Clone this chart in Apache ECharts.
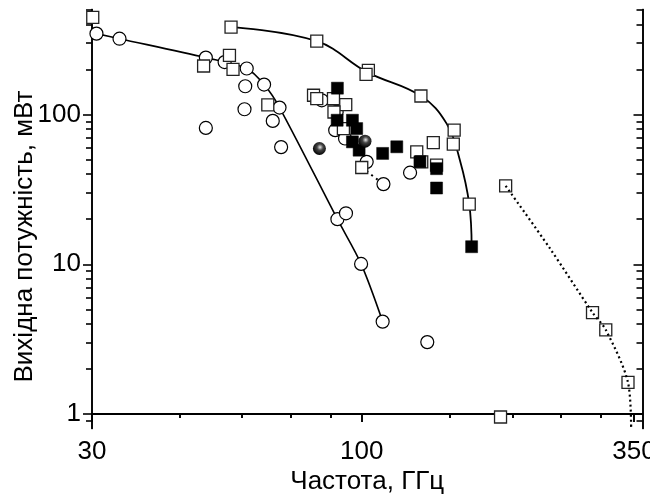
<!DOCTYPE html>
<html lang="uk">
<head>
<meta charset="UTF-8">
<title>Вихідна потужність</title>
<script src="https://cdn.jsdelivr.net/npm/echarts@6/dist/echarts.min.js"></script>
<style>
  html, body { margin: 0; padding: 0; background: #fff; }
  #chart { width: 650px; height: 499px; }
</style>
</head>
<body>
<div id="chart"></div>
<script>
// axis ranges, frequency in GHz, power in mW (log axes)
var xMin = 28.9, xMax = 364;
var yMin = 0.8, yMax = 503;
var xLabelAt = [28.9, 100, 350];
var xLabelText = ['30', '100', '350'];
var xMinorTicks = [43.3, 57.7, 72.2, 86.7, 150, 200, 250, 300];
var yLabelAt = [1, 10, 100];
var yMinorTicks = [0.9, 2, 3, 4, 5, 6, 7, 8, 9, 20, 30, 40, 50, 60, 70, 80, 90, 200, 300, 400, 500];

// solid curve through open circles
var curve1 = [[29.5, 347], [32.8, 321], [48.8, 240], [58.9, 203], [63.8, 158.5], [68.5, 111.3], [89.4, 20.0], [99.7, 10.05], [110.1, 4.14]];
// solid curve through open squares
var curve2 = [[54.8, 384], [81.3, 309], [102.5, 192], [131.3, 133], [147.8, 87], [157.1, 49.6], [164, 25.2], [165.8, 13.1]];
// dotted curve
var curve3 = [[193.9, 33.4], [237.6, 12.8], [289.2, 4.76], [307.4, 3.65], [340.5, 1.625], [345.5, 0.78]];
var dotLink = [[100, 44.3], [110.5, 34.3]];

var openCircles = [[29.5, 347], [32.8, 321], [48.8, 240], [53.2, 224], [58.9, 203], [63.8, 158.5], [68.5, 111.3],
  [89.4, 20.0], [93.0, 21.9], [99.7, 10.05], [110.1, 4.14],
  [48.8, 81.4], [58.5, 154.5], [58.3, 108.5], [66.4, 90.7], [69.0, 60.6], [83.2, 124.5], [89.1, 104.1],
  [88.5, 78.6], [92.6, 69.2], [102.3, 48.3], [110.5, 34.3], [124.9, 40.9], [135.2, 3.02]];
var openSquares = [[54.8, 384], [81.3, 309], [103.1, 197.4], [102, 185.6], [131.3, 133], [153, 78.6], [152.4, 63.4], [164, 25.2],
  [29.0, 445], [48.3, 211], [54.4, 248.5], [55.3, 200.4], [64.9, 115.9], [80.1, 134.5], [81.3, 127.8], [87.8, 127.8],
  [92.9, 116.6], [88, 104], [91.9, 80.6], [100, 44.3], [128.8, 56.3], [139, 64.9], [131.8, 48.3], [141.1, 45.9], [189.4, 0.955]];
var dotSquares = [[193.9, 33.4], [289.2, 4.76], [307.4, 3.65], [340.5, 1.625]];
var filledSquares = [[89.4, 150], [89.3, 91.6], [95.8, 91.6], [97.7, 80.6], [95.8, 65.7], [98.8, 57.8], [110.1, 55.0],
  [117.5, 60.9], [130.7, 48.4], [141.1, 43.5], [141.1, 32.3], [165.8, 13.1]];
var spheres = [[82.3, 59.3], [101.5, 66.4]];

function lg(v) { return Math.log10(v); }
function pts(arr) { return arr.map(function (p) { return [lg(p[0]), lg(p[1])]; }); }

var font = 'Liberation Sans, Arial, sans-serif';
var black = { color: '#000', width: 1.6 };

function xAxis(pos, ticks, len, inside, extra) {
  var a = {
    type: 'value', position: pos, min: lg(xMin), max: lg(xMax),
    axisLine: { show: true, lineStyle: black },
    axisTick: { show: true, inside: inside, length: len, customValues: ticks.map(lg), lineStyle: black },
    axisLabel: { show: false },
    splitLine: { show: false }
  };
  return Object.assign(a, extra || {});
}
function yAxis(pos, ticks, len, inside, extra) {
  var a = {
    type: 'value', position: pos, min: lg(yMin), max: lg(yMax),
    axisLine: { show: true, lineStyle: black },
    axisTick: { show: true, inside: inside, length: len, customValues: ticks.map(lg), lineStyle: black },
    axisLabel: { show: false },
    splitLine: { show: false }
  };
  return Object.assign(a, extra || {});
}

var chart = echarts.init(document.getElementById('chart'));
chart.setOption({
  animation: false,
  grid: { left: 92, right: 7.5, top: 9.5, bottom: 70.5, containLabel: false, outerBoundsMode: 'none' },
  xAxis: [
    xAxis('bottom', xLabelAt, 8, false, {
      axisLabel: {
        show: true, customValues: xLabelAt.map(lg), margin: 10, fontSize: 26, color: '#000', fontFamily: font,
        formatter: function (v) {
          for (var i = 0; i < xLabelAt.length; i++) {
            if (Math.abs(lg(xLabelAt[i]) - v) < 1e-6) return xLabelText[i];
          }
          return '';
        }
      },
      name: 'Частота, ГГц', nameLocation: 'middle', nameGap: 40, nameMoveOverlap: false,
      nameTextStyle: { fontSize: 26, color: '#000', fontFamily: font }
    }),
    xAxis('bottom', xMinorTicks, 4, false),
    xAxis('top', xLabelAt, 8, true),
    xAxis('top', xMinorTicks, 4, true)
  ],
  yAxis: [
    yAxis('left', yLabelAt, 9, false, {
      axisLabel: {
        show: true, customValues: yLabelAt.map(lg), margin: 11, fontSize: 26, color: '#000', fontFamily: font,
        formatter: function (v) { return String(Math.round(Math.pow(10, v))); }
      },
      name: 'Вихідна потужність, мВт', nameLocation: 'middle', nameGap: 54, nameMoveOverlap: false,
      nameTextStyle: { fontSize: 26, color: '#000', fontFamily: font, padding: [0, 35, 0, 0] }
    }),
    yAxis('left', yMinorTicks, 6, false),
    yAxis('right', yLabelAt, 9, true),
    yAxis('right', yMinorTicks, 6, true)
  ],
  series: [
    {
      type: 'line', data: pts(curve1), smooth: 0.3, showSymbol: false, z: 2,
      lineStyle: { color: '#000', width: 1.6 }
    },
    {
      type: 'line', data: pts(curve2), smooth: 0.4, showSymbol: false, z: 2,
      lineStyle: { color: '#000', width: 1.8 }
    },
    {
      type: 'line', data: pts(dotLink), showSymbol: false, z: 2,
      lineStyle: { color: '#000', width: 2, type: [2, 4] }
    },
    {
      type: 'scatter', data: pts(openCircles), symbol: 'circle', symbolSize: 13, z: 3,
      itemStyle: { color: '#fff', borderColor: '#000', borderWidth: 1.2, opacity: 1 }
    },
    {
      type: 'scatter', data: pts(openSquares), symbol: 'rect', symbolSize: 12, z: 4,
      itemStyle: { color: '#fff', borderColor: '#222', borderWidth: 1.3, opacity: 1 }
    },
    {
      type: 'scatter', data: pts(dotSquares), symbol: 'rect', symbolSize: 12, z: 4,
      itemStyle: { color: '#fff', borderColor: '#222', borderWidth: 1.3, opacity: 1 }
    },
    {
      type: 'scatter', data: pts(filledSquares), symbol: 'rect', symbolSize: 12, z: 5,
      itemStyle: { color: '#000', borderColor: '#000', borderWidth: 0.5, opacity: 1 }
    },
    {
      type: 'scatter', data: pts(spheres), symbol: 'circle', symbolSize: 13, z: 6,
      itemStyle: {
        opacity: 1,
        color: {
          type: 'radial', x: 0.55, y: 0.4, r: 0.6,
          colorStops: [{ offset: 0, color: '#e8e8e8' }, { offset: 0.4, color: '#444' }, { offset: 1, color: '#000' }]
        }
      }
    },
    {
      type: 'line', data: pts(curve3), smooth: 0.3, showSymbol: false, z: 7,
      lineStyle: { color: '#000', width: 2.2, type: [2, 3] }
    }
  ]
});
</script>
</body>
</html>
